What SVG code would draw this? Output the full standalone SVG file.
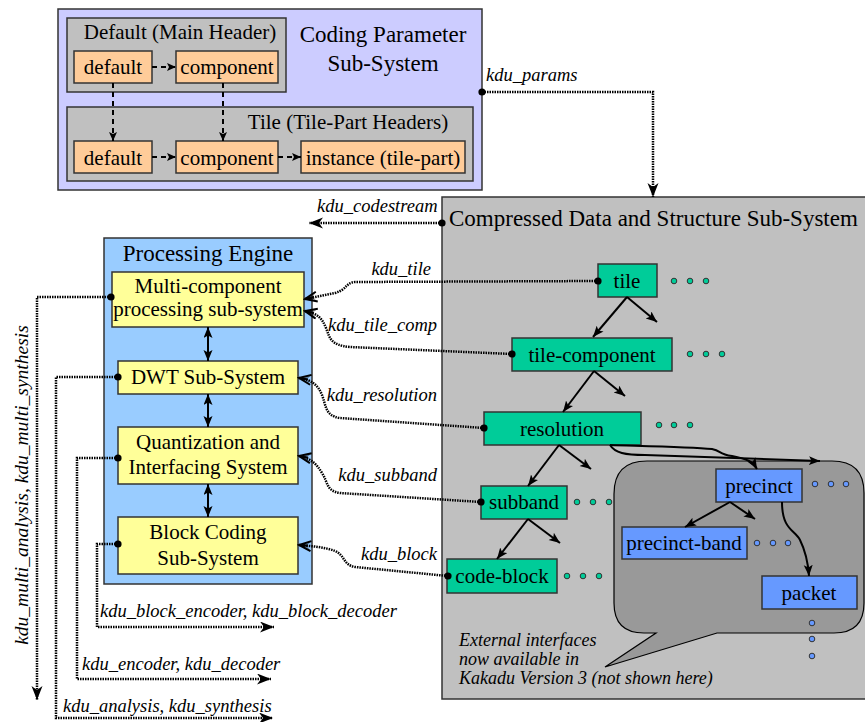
<svg xmlns="http://www.w3.org/2000/svg" width="865" height="722" viewBox="0 0 865 722">
<defs>
<style>
.t{font-family:"Liberation Serif","Times New Roman",serif;fill:#000}
.n{font-size:21px;text-anchor:middle}
.h{font-size:23px;text-anchor:middle}
.i{font-size:18.5px;font-style:italic}
.box{stroke:#333;stroke-width:1.5}
.orange{fill:#ffcc99}
.yel{fill:#ffff99}
.teal{fill:#00cc99}
.blu{fill:#6699ff}
.gray{fill:#c0c0c0}
.ell{stroke:#333;stroke-width:1}
.dash{fill:none;stroke:#000;stroke-width:2;stroke-dasharray:5 4;marker-end:url(#dtri)}
.dot{fill:none;stroke:#000;stroke-width:2.5;stroke-dasharray:1.5 1;marker-start:url(#dotm)}
.solid{fill:none;stroke:#000;stroke-width:2;marker-end:url(#tri)}
.dbl{fill:none;stroke:#000;stroke-width:2;marker-end:url(#tri);marker-start:url(#tri)}
</style>
<marker id="tri" markerUnits="userSpaceOnUse" markerWidth="12" markerHeight="10" refX="11" refY="4.5" orient="auto-start-reverse"><path d="M0,0 L11,4.5 L0,9 L2.5,4.5 z" fill="#000"/></marker>
<marker id="dtri" markerUnits="userSpaceOnUse" markerWidth="10" markerHeight="9" refX="9" refY="4" orient="auto"><path d="M0,0 L9,4 L0,8 L2,4 z" fill="#000"/></marker>
<marker id="big" markerUnits="userSpaceOnUse" markerWidth="15" markerHeight="12" refX="14" refY="5.5" orient="auto"><path d="M0,0 L14,5.5 L0,11 L4,5.5 z" fill="#000"/></marker>
<marker id="opn" markerUnits="userSpaceOnUse" markerWidth="15" markerHeight="14" refX="13" refY="6" orient="auto"><path d="M1,1 L13,6 L1,11 M4,6 L13,6" fill="none" stroke="#000" stroke-width="2"/><path d="M1,1 L13,6 L1,11 L5,6 z" fill="#000" opacity="0.35"/></marker>
<marker id="dotm" markerUnits="userSpaceOnUse" markerWidth="10" markerHeight="10" refX="5" refY="5" orient="auto"><circle cx="5" cy="5" r="3.6" fill="#000"/></marker>
</defs>

<!-- Coding parameter sub-system -->
<g id="coding-param">
<rect x="58" y="9" width="424" height="181" fill="#ccccff" class="box"/>
<text class="t h" x="383" y="42">Coding Parameter</text>
<text class="t h" x="383" y="71">Sub-System</text>
</g>
<g id="main-header">
<rect x="67" y="18" width="219" height="74" class="gray box"/>
<text class="t n" x="180" y="39">Default (Main Header)</text>
</g>
<g id="tile-headers">
<rect x="67" y="107" width="406" height="74" class="gray box"/>
<text class="t n" x="348" y="129">Tile (Tile-Part Headers)</text>
</g>
<g id="mh-default"><rect x="74" y="51" width="78" height="32" class="orange box"/><text class="t n" x="113" y="74">default</text></g>
<g id="mh-component"><rect x="176" y="51" width="102" height="32" class="orange box"/><text class="t n" x="227" y="74">component</text></g>
<g id="th-default"><rect x="74" y="141" width="78" height="32" class="orange box"/><text class="t n" x="113" y="165">default</text></g>
<g id="th-component"><rect x="176" y="141" width="102" height="32" class="orange box"/><text class="t n" x="227" y="165">component</text></g>
<g id="th-instance"><rect x="301" y="141" width="164" height="32" class="orange box"/><text class="t n" x="383" y="165">instance (tile-part)</text></g>

<!-- Compressed data sub-system -->
<g id="compressed-data">
<rect x="442" y="197" width="430" height="502" class="gray box"/>
<text class="t" x="449" y="226" style="font-size:23px">Compressed Data and Structure Sub-System</text>
</g>
<g id="bubble">
<path d="M647,461 H832 Q864,461 864,493 V603 Q864,633 834,633 H717 L605,667 L656,633 H644 Q614,633 614,603 V494 Q614,461 647,461 Z" fill="#999999" stroke="#000" stroke-width="1.2"/>
<text class="t i" x="459" y="646" style="font-size:18px">External interfaces</text>
<text class="t i" x="459" y="665" style="font-size:18px">now available in</text>
<text class="t i" x="459" y="684" style="font-size:18px">Kakadu Version 3 (not shown here)</text>
</g>

<!-- Processing engine -->
<g id="processing-engine">
<rect x="104" y="238" width="208" height="346" fill="#99ccff" class="box"/>
<text class="t h" x="208" y="261">Processing Engine</text>
</g>
<g id="multi-component"><rect x="112" y="272" width="192" height="55" class="yel box"/><text class="t n" x="208" y="293">Multi-component</text><text class="t n" x="208" y="316">processing sub-system</text></g>
<g id="dwt"><rect x="118" y="361" width="180" height="33" class="yel box"/><text class="t n" x="208" y="384">DWT Sub-System</text></g>
<g id="quant"><rect x="118" y="427" width="180" height="57" class="yel box"/><text class="t n" x="208" y="449">Quantization and</text><text class="t n" x="208" y="474">Interfacing System</text></g>
<g id="block-coding"><rect x="118" y="517" width="180" height="57" class="yel box"/><text class="t n" x="208" y="539">Block Coding</text><text class="t n" x="208" y="565">Sub-System</text></g>

<!-- Structure nodes -->
<g id="tile"><rect x="598" y="264" width="59" height="33" class="teal box"/><text class="t n" x="627" y="288">tile</text>
<circle cx="674" cy="281" r="2.8" class="teal ell"/><circle cx="690" cy="281" r="2.8" class="teal ell"/><circle cx="706" cy="281" r="2.8" class="teal ell"/></g>
<g id="tile-component"><rect x="512" y="338" width="160" height="33" class="teal box"/><text class="t n" x="592" y="362">tile-component</text>
<circle cx="690" cy="354" r="2.8" class="teal ell"/><circle cx="706" cy="354" r="2.8" class="teal ell"/><circle cx="722" cy="354" r="2.8" class="teal ell"/></g>
<g id="resolution"><rect x="484" y="412" width="157" height="33" class="teal box"/><text class="t n" x="562" y="436">resolution</text>
<circle cx="659" cy="425" r="2.8" class="teal ell"/><circle cx="674" cy="425" r="2.8" class="teal ell"/><circle cx="690" cy="425" r="2.8" class="teal ell"/></g>
<g id="subband"><rect x="481" y="486" width="86" height="33" class="teal box"/><text class="t n" x="524" y="509">subband</text>
<circle cx="577" cy="502" r="2.8" class="teal ell"/><circle cx="593" cy="502" r="2.8" class="teal ell"/><circle cx="609" cy="502" r="2.8" class="teal ell"/></g>
<g id="code-block"><rect x="447" y="559" width="110" height="34" class="teal box"/><text class="t n" x="502" y="583">code-block</text>
<circle cx="567" cy="576" r="2.8" class="teal ell"/><circle cx="583" cy="576" r="2.8" class="teal ell"/><circle cx="599" cy="576" r="2.8" class="teal ell"/></g>
<g id="precinct"><rect x="716" y="469" width="86" height="33" class="blu box"/><text class="t n" x="759" y="493">precinct</text>
<circle cx="815" cy="484" r="2.8" class="blu ell"/><circle cx="831" cy="484" r="2.8" class="blu ell"/><circle cx="846" cy="484" r="2.8" class="blu ell"/></g>
<g id="precinct-band"><rect x="622" y="527" width="125" height="32" class="blu box"/><text class="t n" x="684" y="550">precinct-band</text>
<circle cx="757" cy="543" r="2.8" class="blu ell"/><circle cx="773" cy="543" r="2.8" class="blu ell"/><circle cx="788" cy="543" r="2.8" class="blu ell"/></g>
<g id="packet"><rect x="762" y="576" width="95" height="33" class="blu box"/><text class="t n" x="809" y="600">packet</text>
<circle cx="812" cy="623" r="2.8" class="blu ell"/><circle cx="812" cy="639" r="2.8" class="blu ell"/><circle cx="812" cy="656" r="2.8" class="blu ell"/></g>

<!-- Connectors -->
<g id="connectors">
<path class="dash" d="M152,67 H176"/>
<path class="dash" d="M113,83 V141"/>
<path class="dash" d="M223,83 V141"/>
<path class="dash" d="M152,157 H176"/>
<path class="dash" d="M278,157 H301"/>

<path class="dot" d="M482,92 H653 V197" marker-end="url(#big)"/>
<path class="dot" d="M442,223 H309" marker-end="url(#big)"/>

<path class="dbl" d="M208,327 V361"/>
<path class="dbl" d="M208,394 V427"/>
<path class="dbl" d="M208,484 V517"/>

<path class="solid" d="M627,297 L593,337"/>
<path class="solid" d="M627,297 L657,322"/>
<path class="solid" d="M594,371 L563,412"/>
<path class="solid" d="M594,371 L625,396"/>
<path class="solid" d="M559,445 L528,486"/>
<path class="solid" d="M559,445 L591,469"/>
<path class="solid" d="M528,519 L497,559"/>
<path class="solid" d="M528,519 L560,543"/>
<path class="solid" d="M730,502 L685,527"/>
<path class="solid" d="M730,502 L755,519"/>
<path class="solid" d="M782,502 C782,530 795,530 800,540 C806,552 808,562 809,576"/>
<path class="solid" d="M610,445 C640,446 690,447 712,449 C722,451 718,454 732,456 C748,459 753,462 757,469"/>
<path class="solid" d="M610,445 C615,453 625,455 645,455 L820,461"/>

<path class="dot" d="M598,281 L355,282 C345,283 348,289 335,293 L305,299" marker-end="url(#opn)"/>
<path class="dot" d="M512,354 L350,347 C330,345 330,338 326,328 C322,318 318,314 305,311" marker-end="url(#opn)"/>
<path class="dot" d="M484,428 L340,418 C325,416 326,405 322,395 C318,385 312,380 299,378" marker-end="url(#opn)"/>
<path class="dot" d="M481,502 L340,493 C326,491 328,482 322,473 C316,463 310,458 299,456" marker-end="url(#opn)"/>
<path class="dot" d="M448,576 L355,567 C343,565 345,555 335,551 C325,547 310,546 299,545" marker-end="url(#opn)"/>

<path class="dot" d="M111,297 H37 V700" marker-end="url(#big)"/>
<path class="dot" d="M118,377 H56 V718 H273" marker-end="url(#big)"/>
<path class="dot" d="M118,458 H77 V679 H271" marker-end="url(#big)"/>
<path class="dot" d="M118,544 H97 V627 H274" marker-end="url(#big)"/>

<text class="t i" x="486" y="81">kdu_params</text>
<text class="t i" x="317" y="212">kdu_codestream</text>
<text class="t i" x="431" y="275" text-anchor="end">kdu_tile</text>
<text class="t i" x="437" y="331" text-anchor="end">kdu_tile_comp</text>
<text class="t i" x="437" y="401" text-anchor="end">kdu_resolution</text>
<text class="t i" x="437" y="481" text-anchor="end">kdu_subband</text>
<text class="t i" x="437" y="560" text-anchor="end">kdu_block</text>
<text class="t i" x="100" y="617">kdu_block_encoder, kdu_block_decoder</text>
<text class="t i" x="82" y="670">kdu_encoder, kdu_decoder</text>
<text class="t i" x="63" y="712">kdu_analysis, kdu_synthesis</text>
<text class="t i" transform="translate(28,485) rotate(-90)" text-anchor="middle" style="font-size:19.5px">kdu_multi_analysis, kdu_multi_synthesis</text>
</g>
</svg>
